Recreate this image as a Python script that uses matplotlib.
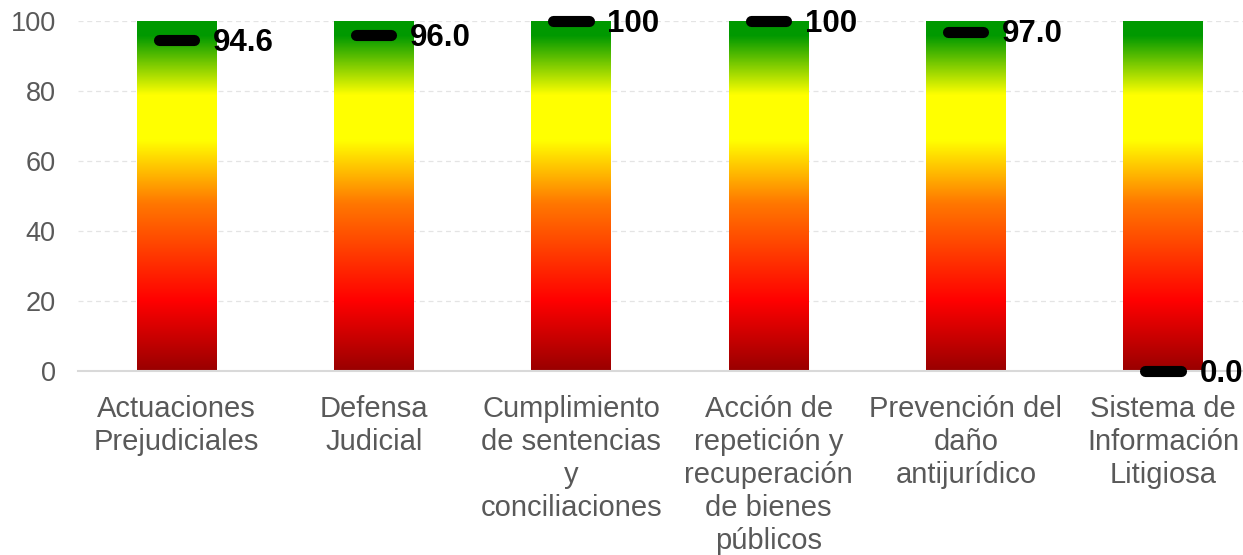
import matplotlib
matplotlib.use("Agg")
import matplotlib.pyplot as plt
import numpy as np
from matplotlib.colors import LinearSegmentedColormap

categories = ["Actuaciones\nPrejudiciales", "Defensa\nJudicial",
              "Cumplimiento\nde sentencias\ny\nconciliaciones",
              "Acción de\nrepetición y\nrecuperación\nde bienes\npúblicos",
              "Prevención del\ndaño\nantijurídico",
              "Sistema de\nInformación\nLitigiosa"]
scale_max = [100, 100, 100, 100, 100, 100]
values = [94.6, 96.0, 100, 100, 97.0, 0.0]
yticks = [0, 20, 40, 60, 80, 100]

plt.rcParams['font.family'] = ['Liberation Sans', 'DejaVu Sans']

fig = plt.figure(figsize=(12.43, 5.55), dpi=100)
ax = fig.add_axes([78/1243, (555-371)/555, (1262-78)/1243, 350/555])

cmap = LinearSegmentedColormap.from_list("grad", [
    (0.0, (0.60, 0.0, 0.0)),
    (0.20, (1.0, 0.0, 0.0)),
    (0.48, (1.0, 0.47, 0.0)),
    (0.66, (1.0, 1.0, 0.0)),
    (0.79, (1.0, 1.0, 0.0)),
    (0.96, (0.0, 0.60, 0.0)),
    (1.0, (0.0, 0.60, 0.0)),
])
grad = np.linspace(0, 1, 512).reshape(-1, 1)

x = np.arange(len(categories))
width = 0.405
bars = ax.bar(x, scale_max, width=width, color='none', zorder=2)
for b in bars:
    x0 = b.get_x()
    im = ax.imshow(grad, cmap=cmap, origin='lower', aspect='auto',
                   extent=[x0, x0 + b.get_width(), 0, b.get_height()], zorder=2)
    im.set_clip_path(b)

for xi, v in zip(x, values):
    ax.plot([xi - 0.092, xi + 0.088], [v, v], color='black', lw=8,
            solid_capstyle='round', zorder=4, clip_on=False)
    lab = f"{v:.0f}" if v >= 100 else f"{v:.1f}"
    ax.text(xi + 0.183, v - 0.8, lab, ha='left', va='center', fontsize=22.5,
            fontweight='bold', color='black', zorder=5, clip_on=False)

ax.set_xlim(-0.5, len(categories) - 0.5)
ax.set_ylim(0, 100)
ax.set_yticks(yticks)
ax.set_xticks(x)
ax.set_xticklabels(categories, fontsize=21, color='#595959', linespacing=1.22)
ax.tick_params(axis='y', labelsize=19.5, colors='#595959', length=0, pad=16)
ax.tick_params(axis='x', length=0, pad=17.5)
ax.yaxis.grid(True, color='#e4e4e4', linestyle=(0, (4, 3)), lw=0.9, zorder=0)
ax.set_axisbelow(True)
for s in ['top', 'right', 'left']:
    ax.spines[s].set_visible(False)
ax.spines['bottom'].set_color('#d9d9d9')
ax.spines['bottom'].set_linewidth(1.5)

fig.savefig("out.png", dpi=100)
